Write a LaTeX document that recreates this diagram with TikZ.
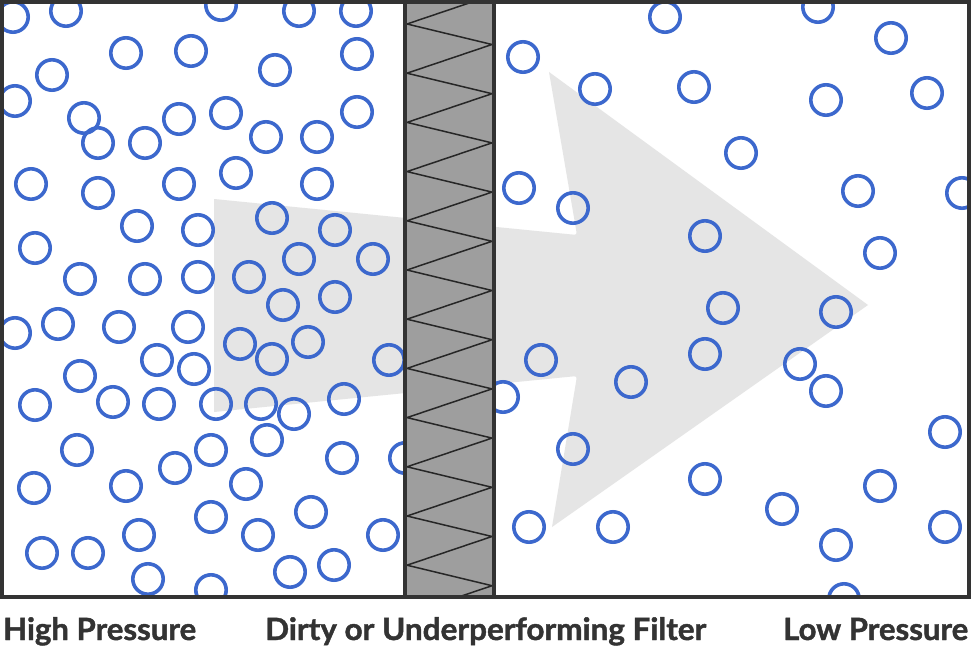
\documentclass[tikz,border=0pt]{standalone}
\usepackage{fontspec}
\setmainfont{Lato}[BoldFeatures={FakeBold=1.4}]
\usepackage{graphicx}
\definecolor{ink}{HTML}{333333}
\definecolor{dotblue}{RGB}{60,104,205}
\definecolor{flow}{HTML}{E5E5E5}
\definecolor{media}{HTML}{9E9E9E}
\newcommand{\fitlabel}[2]{\resizebox{#1}{\height}{#2}}
\tikzset{
  bubble/.style={draw=dotblue,line width=3.6pt},
  frameline/.style={draw=ink,line width=4pt},
  filterline/.style={draw=ink,line width=3.6pt},
  zigline/.style={draw=black!85,line width=1.5pt,line join=miter},
  caption/.style={inner sep=0pt,anchor=base west,text=ink,font=\fontsize{30.7}{36}\selectfont\bfseries}
}
\begin{document}
\begin{tikzpicture}[x=1pt,y=-1pt]
\useasboundingbox (0,0) rectangle (971,663);
\fill[white] (0,0) rectangle (971,663);
% flow arrow
\fill[flow] (214,199) -- (571,234.4) .. controls (577,235) .. (576,229.1) -- (549,72) -- (868,305) -- (552,527) -- (576,382) .. controls (577,376) .. (571,376.6) -- (214,412) -- cycle;
% particles
\begin{scope}
\clip (2,2) rectangle (969,597);
\foreach \x/\y in {13/17,66/11,221/5,299/11,356/11,
126/53,191/51,357/54,52/75,275/70,
15/101,84/118,179/119,226/113,357/112,
98/143,145/143,266/137,317/137,
31/184,98/193,179/184,236/173,317/184,
272/218,137/226,198/230,335/230,
35/248,299/259,373/259,
80/279,145/279,198/277,249/277,
283/305,335/297,
15/333,58/324,119/327,188/327,240/344,272/359,308/342,
157/360,194/369,80/376,389/360,
35/405,113/402,159/404,216/404,261/404,294/414,344/399,
267/440,77/450,211/450,342/458,405/458,
175/468,34/488,126/486,246/484,
211/517,311/512,
139/535,258/535,383/535,
42/553,88/553,290/572,334/565,148/579,211/590,
665/17,818/7,891/38,523/57,595/89,694/87,826/100,927/93,
741/153,519/188,573/208,858/191,962/193,
705/236,880/253,
723/308,836/312,
541/360,705/354,503/397,631/382,800/364,826/391,
573/449,945/432,705/479,880/486,782/509,
529/527,613/527,836/545,945/527,844/599}
  \draw[bubble] (\x,\y) circle[radius=15.2pt];
\end{scope}
% filter
\fill[media] (405,2) rectangle (494,597);
\begin{scope}
\clip (405,2) rectangle (494,597);
\draw[zigline] (492,-4.7) \foreach \k in {0,...,12} { -- (407,{24+49.2*\k}) -- (492,{44.5+49.2*\k}) };
\end{scope}
\draw[filterline] (405,2) -- (405,597);
\draw[filterline] (494,2) -- (494,597);
% frame
\draw[frameline] (2,2) rectangle (969,597);
% labels
\node[caption] (hp) at (3,640) {\fitlabel{193pt}{High Pressure}};
\node[caption] (df) at (265,640) {\fitlabel{441pt}{Dirty or Underperforming Filter}};
\node[caption] (lp) at (783,640) {\fitlabel{185pt}{Low Pressure}};
\end{tikzpicture}
\end{document}
